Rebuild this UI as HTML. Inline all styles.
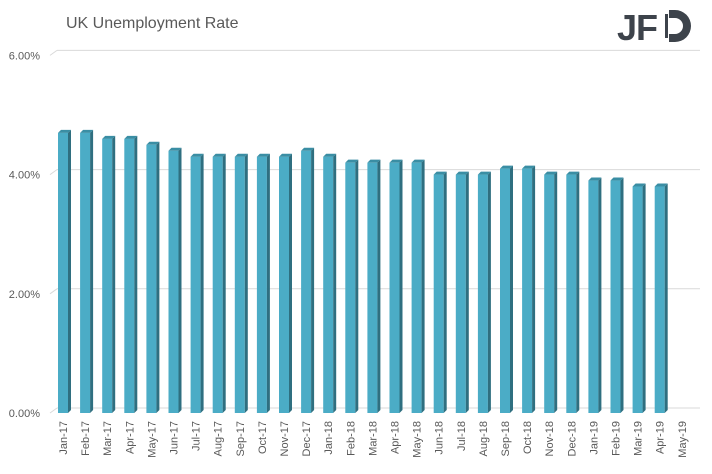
<!DOCTYPE html>
<html><head><meta charset="utf-8"><style>
html,body{margin:0;padding:0;background:#fff;width:712px;height:474px;overflow:hidden}
svg{display:block;font-family:"Liberation Sans",Arial,sans-serif}
</style></head><body>
<svg id="c" width="712" height="474" xmlns="http://www.w3.org/2000/svg">
<text x="66" y="28" font-size="16" fill="#595959">UK Unemployment Rate</text>
<g font-family="Liberation Sans,Arial,sans-serif" font-weight="bold" fill="#3d434b">
<text x="617" y="40" font-size="36" letter-spacing="-1">JF</text>
</g>
<path d="M669 10 h6 a16 16 0 0 1 0 32 h-6 v-8 h6 a8 8 0 0 0 0 -16 h-6z" fill="#3d434b"/>
<rect x="665" y="14" width="3" height="24" fill="#3d434b"/>
</svg>
<script>
var s=document.getElementById('c'),ns='http://www.w3.org/2000/svg';
function el(t,a,txt){var e=document.createElementNS(ns,t);for(var k in a)e.setAttribute(k,a[k]);if(txt)e.textContent=txt;s.appendChild(e);return e;}
var y0=413,u=59.6;
['0.00%','2.00%','4.00%','6.00%'].forEach(function(l,i){
 var y=y0-i*u*2;
 el('line',{x1:57,y1:y-5,x2:700,y2:y-5,stroke:'#d9d9d9','stroke-width':1});
 el('line',{x1:50,y1:y,x2:57,y2:y-5,stroke:'#d9d9d9','stroke-width':1});
 el('text',{x:40,y:y+4,'font-size':11,fill:'#595959','text-anchor':'end'},l);
});
var v=[4.7,4.7,4.6,4.6,4.5,4.4,4.3,4.3,4.3,4.3,4.3,4.4,4.3,4.2,4.2,4.2,4.2,4.0,4.0,4.0,4.1,4.1,4.0,4.0,3.9,3.9,3.8,3.8];
var m=['Jan','Feb','Mar','Apr','May','Jun','Jul','Aug','Sep','Oct','Nov','Dec'];
for(var i=0;i<29;i++){
 var x=58+i*22.1;
 if(i<28){
  var t=y0-v[i]*u;
  el('rect',{x:x,y:t,width:10,height:y0-t,fill:'#4bacc6'});
  el('polygon',{points:(x+10)+','+t+' '+(x+13)+','+(t-3)+' '+(x+13)+','+(y0-3)+' '+(x+10)+','+y0,fill:'#2f6f80'});
  el('polygon',{points:x+','+t+' '+(x+3)+','+(t-3)+' '+(x+13)+','+(t-3)+' '+(x+10)+','+t,fill:'#3a8ea4'});
 }
 var lab=m[i%12]+'-'+(17+Math.floor(i/12));
 el('text',{transform:'translate('+(x+9)+',421) rotate(-90)','font-size':11,fill:'#595959','text-anchor':'end'},lab);
}
</script>
</body></html>
